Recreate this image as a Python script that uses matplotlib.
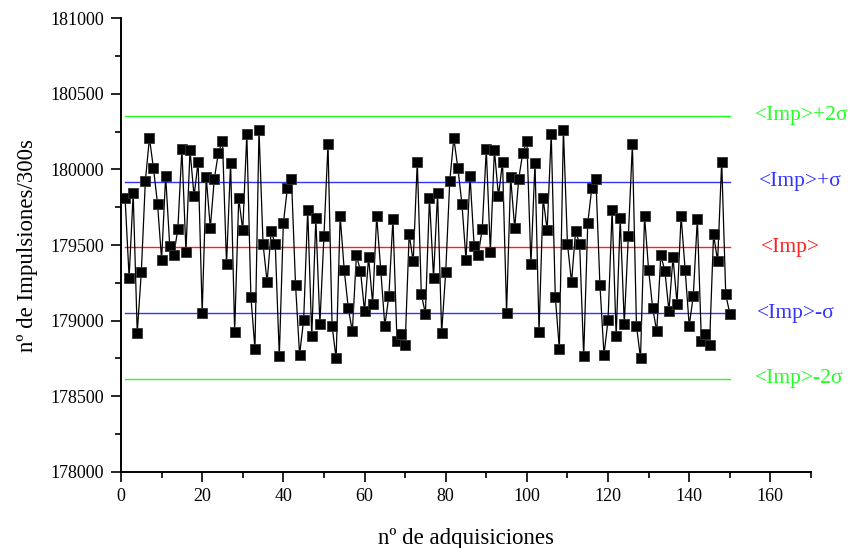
import numpy as np
import matplotlib.pyplot as plt

# impulsiones por adquisicion (300 s)
counts = [
    179812, 179285, 179841, 178920, 179319, 179923, 180208, 180007, 179772, 179403,
    179956, 179496, 179436, 179604, 180133, 179456, 180128, 179823, 180051, 179053,
    179949, 179613, 179940, 180111, 180188, 179374, 180044, 178927, 179808, 179600,
    180235, 179159, 178812, 180261, 179507, 179254, 179591, 179507, 178765, 179644,
    179878, 179938, 179237, 178774, 179004, 179732, 178896, 179677, 178980, 179558,
    180168, 178967, 178750, 179690, 179334, 179082, 178929, 179431, 179330, 179062,
    179418, 179113, 179690, 179334, 178965, 179164, 179673, 178865, 178909, 178836,
    179571, 179392, 180051, 179173, 179046,
    179812, 179285, 179841, 178920, 179319, 179923, 180208, 180007, 179772, 179403,
    179956, 179496, 179436, 179604, 180133, 179456, 180128, 179823, 180051, 179053,
    179949, 179613, 179940, 180111, 180188, 179374, 180044, 178927, 179808, 179600,
    180235, 179159, 178812, 180261, 179507, 179254, 179591, 179507, 178765, 179644,
    179878, 179938, 179237, 178774, 179004, 179732, 178896, 179677, 178980, 179558,
    180168, 178967, 178750, 179690, 179334, 179082, 178929, 179431, 179330, 179062,
    179418, 179113, 179690, 179334, 178965, 179164, 179673, 178865, 178909, 178836,
    179571, 179392, 180051, 179173, 179046,
]
adquisicion = list(range(1, len(counts) + 1))

imp_mean = 179484
imp_sigma = 435

# lineas de referencia: (multiplo de sigma, color, etiqueta, x de la etiqueta)
ref_k = [2, 1, 0, -1, -2]
ref_colors = ['#22ff22', '#3333ff', '#ff2020', '#3333ff', '#22ff22']
ref_labels = ['<Imp>+2σ', '<Imp>+σ', '<Imp>', '<Imp>-σ', '<Imp>-2σ']
ref_label_x = [156.2, 157.2, 157.7, 156.7, 156.2]

plt.rcParams['font.family'] = ['Liberation Serif', 'DejaVu Serif']

fig = plt.figure(figsize=(8.57, 5.48), dpi=100)
ax = fig.add_axes([0.1412, 0.1392, 0.8051, 0.8274])

for k, c, lab, lx in zip(ref_k, ref_colors, ref_labels, ref_label_x):
    yv = imp_mean + k * imp_sigma
    ax.plot([adquisicion[0], adquisicion[-1]], [yv, yv], color=c, lw=1.0, zorder=1)
    ax.text(lx, yv, lab, color=c, fontsize=15.5, ha='left', va='center', clip_on=False)

ax.plot(adquisicion, counts, color='black', lw=0.9, marker='s', ms=6.6,
        mfc='black', mec='#333333', mew=0.6, zorder=3)

ax.set_xlim(0, 170)
ax.set_ylim(178000, 181000)
ax.set_xticks(np.arange(0, 161, 20))
ax.set_xticks(np.arange(10, 171, 10), minor=True)
ax.set_yticks(np.arange(178000, 181001, 500))
ax.set_yticks(np.arange(178250, 181000, 250), minor=True)

ax.spines['top'].set_visible(False)
ax.spines['right'].set_visible(False)
ax.spines['left'].set_linewidth(1.4)
ax.spines['bottom'].set_linewidth(1.4)
ax.tick_params(which='major', direction='out', length=7, width=1.2, labelsize=13, pad=5)
ax.tick_params(which='minor', direction='out', length=4, width=1.2)

ax.set_xlabel('nº de adquisiciones', fontsize=16.5, labelpad=16)
ax.set_ylabel('nº de Impulsiones/300s', fontsize=16.5, labelpad=9)

fig.savefig('out.png', dpi=100)
